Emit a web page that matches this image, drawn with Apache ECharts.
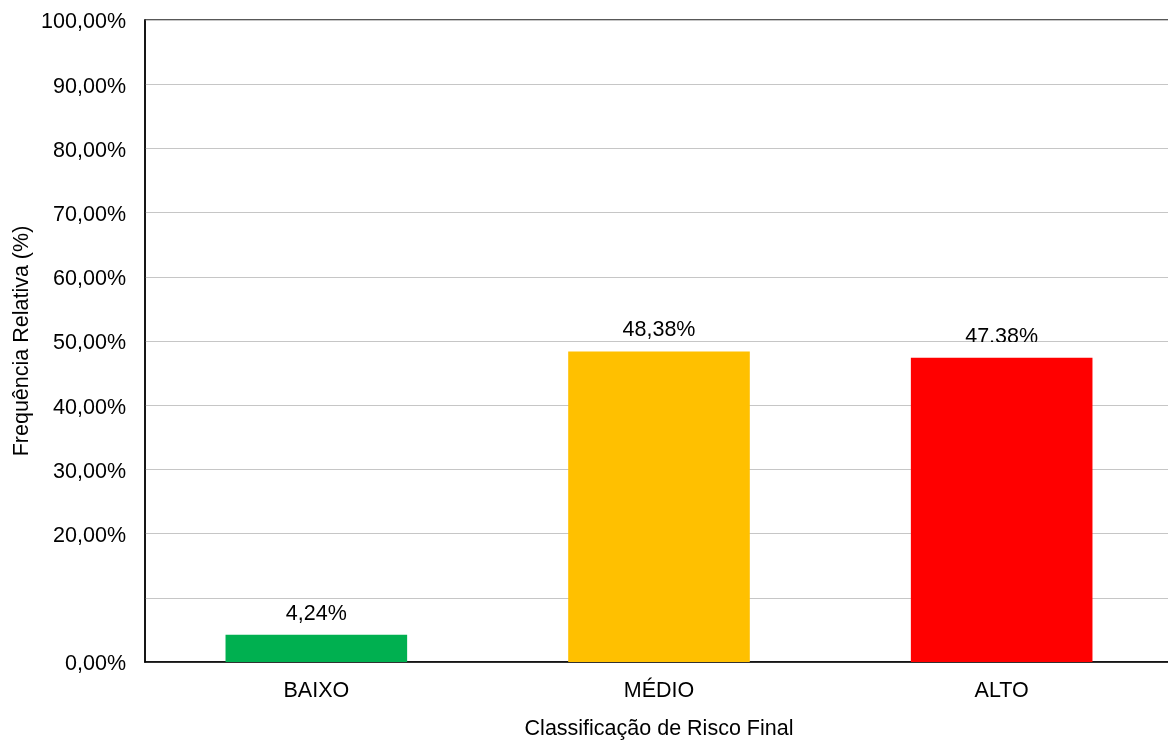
<!DOCTYPE html>
<html>
<head>
<meta charset="utf-8">
<script src="https://cdn.jsdelivr.net/npm/echarts@6/dist/echarts.min.js"></script>
<style>
html,body{margin:0;padding:0;background:#fff;}
#chart{width:1168px;height:740px;}
</style>
</head>
<body>
<div id="chart"></div>
<script>
const categories = ['BAIXO', 'MÉDIO', 'ALTO'];
const values = [4.24, 48.38, 47.38];
const barColors = ['#00B050', '#FFC000', '#FF0000'];
const valueLabels = ['4,24%', '48,38%', '47,38%'];
const labelClipAt = [null, null, 50];
const hiddenTicks = [10];
const yAxisTitle = 'Frequência Relativa (%)';
const xAxisTitle = 'Classificação de Risco Final';

const FONT = '"Liberation Sans", Arial, sans-serif';
const FS = 21.5;
const chart = echarts.init(document.getElementById('chart'), null, {renderer: 'canvas'});

chart.setOption({
  animation: false,
  backgroundColor: '#fff',
  grid: {
    left: 145, width: 1028, top: 20, bottom: 78,
    outerBoundsMode: 'none',
    containLabel: false,
    show: true, borderColor: '#222', borderWidth: 1.5, backgroundColor: 'transparent'
  },
  xAxis: {
    type: 'category',
    data: categories,
    name: xAxisTitle,
    nameLocation: 'middle',
    nameGap: 56,
    nameTextStyle: {fontFamily: FONT, fontSize: FS, color: '#000'},
    axisLine: {show: true, lineStyle: {color: '#000', width: 1.5}},
    axisTick: {show: false},
    axisLabel: {fontFamily: FONT, fontSize: FS, color: '#000', margin: 18}
  },
  yAxis: {
    type: 'value',
    min: 0, max: 100, interval: 10,
    name: yAxisTitle,
    nameLocation: 'middle',
    nameGap: 112,
    nameMoveOverlap: false,
    nameTextStyle: {fontFamily: FONT, fontSize: FS, color: '#000'},
    axisLine: {show: true, lineStyle: {color: '#000', width: 1.5}},
    axisTick: {show: false},
    splitLine: {show: true, lineStyle: {color: '#c6c6c6', width: 1}},
    axisLabel: {
      fontFamily: FONT, fontSize: FS, color: '#000', margin: 19,
      formatter: function (v) {
        if (hiddenTicks.indexOf(v) >= 0) return '';
        return '{t|' + v.toFixed(2).replace('.', ',') + '%}';
      },
      rich: {
        t: {fontFamily: FONT, fontSize: FS, color: '#000', padding: [5, 0, 0, 0]}
      }
    }
  },
  series: [
    {
      type: 'bar',
      barWidth: '53%',
      data: values.map((v, i) => ({value: v, itemStyle: {color: barColors[i]}})),
      z: 2
    },
    {
      type: 'custom',
      data: values.map((v, i) => [i, v]),
      z: 3,
      renderItem: function (params, api) {
        const i = params.dataIndex;
        const pt = api.coord([api.value(0), api.value(1)]);
        const text = {
          type: 'text',
          x: pt[0], y: pt[1] - 10,
          style: {
            text: valueLabels[i], fill: '#000',
            font: FS + 'px ' + FONT,
            textAlign: 'center', textVerticalAlign: 'bottom'
          }
        };
        const group = {type: 'group', children: [text]};
        if (labelClipAt[i] != null) {
          const cy = api.coord([api.value(0), labelClipAt[i]])[1];
          group.clipPath = {type: 'rect', shape: {x: 0, y: 0, width: 2000, height: cy + 1}};
        }
        return group;
      }
    }
  ]
});
</script>
</body>
</html>
